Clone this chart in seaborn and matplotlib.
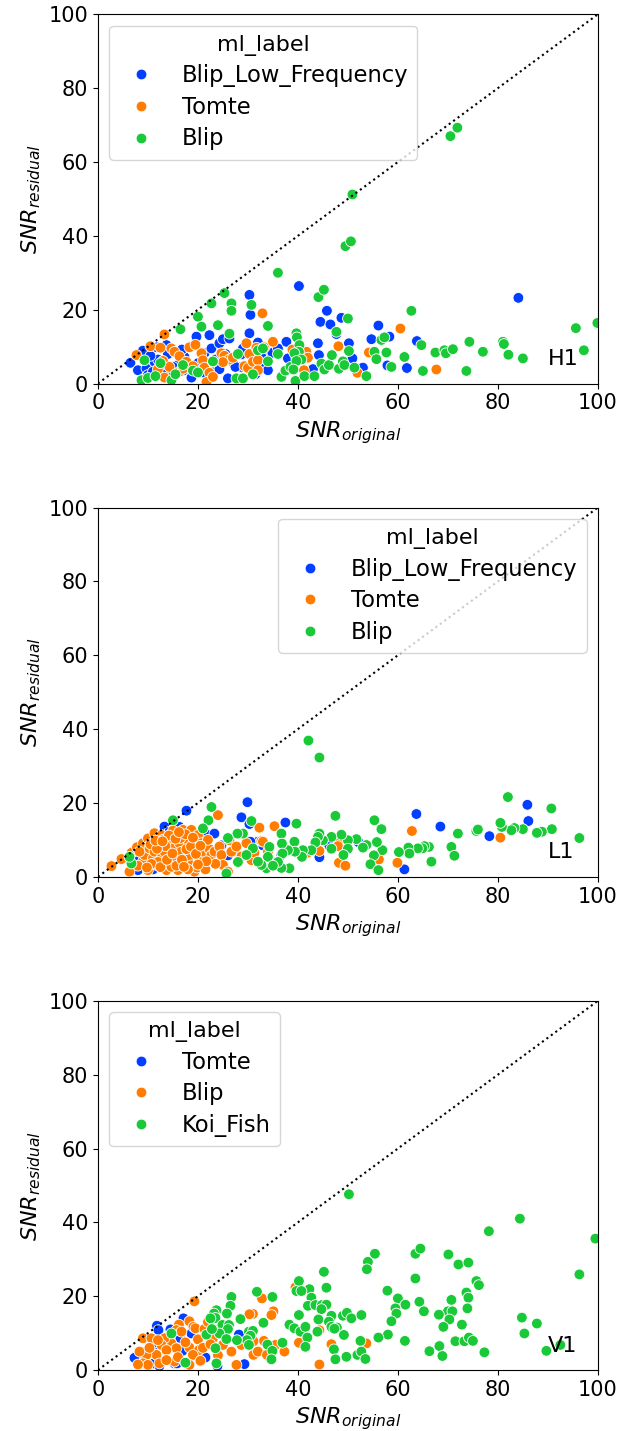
import numpy as np
import pandas as pd
import matplotlib
matplotlib.use("Agg")
import matplotlib.pyplot as plt
import seaborn as sns

# ---------------- H1 ----------------
h1_blf_x = [6.5, 9.0, 8.0, 9.7, 10, 11.3, 11, 12.7, 13.7, 14.7, 16, 17.3, 18.7, 19.3, 19.7, 21.3, 22.3, 22.7, 23.3, 24.3,
            25, 26.3, 26, 27.3, 28.7, 30.3, 30.5, 30.3, 32, 34.7, 33.7, 37.7, 38, 45.8, 44.5, 46.5, 48.7, 47.7, 44, 44.2,
            43, 50.2, 50.9, 53, 54.7, 56.1, 58.3, 57.9, 61.8, 63.8, 40.2, 84.1, 32.8, 34, 34.9, 18.3, 27.5, 28.7, 30.7, 32.7,
            24.3, 12, 14, 15, 20, 21, 25.5, 29, 10.5, 13, 17, 31.5, 36, 11.8, 16.8, 23.5]
h1_blf_y = [5.6, 8.9, 3.6, 4.1, 2.3, 5.9, 3.2, 4.1, 10.4, 2.0, 5.0, 7.2, 1.6, 10.4, 12.7, 8.2, 13.1, 9.5, 3.2, 10.9,
            12, 12.2, 1.4, 5.0, 4.5, 24, 18.6, 13.6, 11.1, 8.2, 5.9, 11.3, 6.8, 19.7, 16.7, 16.0, 17.8, 13.4, 10.9, 7.7,
            3.9, 10.9, 6.8, 4.3, 12, 15.7, 12.7, 4.9, 4.2, 11.5, 26.4, 23.2, 4.1, 3.6, 8.3, 9.9, 4.5, 7.9, 7.7, 7.2,
            3.9, 6.5, 8, 4.5, 5.5, 3, 8, 9.5, 7.5, 2.5, 3.5, 2.5, 9.5, 9.8, 9.2, 6.5]

h1_tomte_x = [7.7, 10.5, 13.3, 12.5, 13, 12, 13.3, 14.7, 14.3, 15.3, 16.3, 16.3, 17, 18.3, 17.7, 19, 20.7, 21, 21.3, 22.3,
              21.7, 23, 23, 24.7, 25.3, 26.3, 25, 29.7, 30.3, 29.3, 30, 31, 32, 31.7, 33.3, 32, 35, 32.9, 38.9, 39.7,
              41.7, 42, 41.2, 48.1, 51.9, 54.2, 60.5, 67.7, 19.5, 27]
h1_tomte_y = [7.7, 10.1, 13.3, 9.7, 6.1, 3.9, 1.6, 9.5, 4.5, 8.6, 7.4, 3.2, 4, 9.8, 5.9, 4.7, 8.2, 6.3, 4.3, 2.9,
              0.4, 1.8, 5.9, 8.2, 7.5, 6.5, 5.8, 10.9, 8.0, 4.7, 4.2, 5.9, 6.3, 9.7, 9.8, 3.6, 11.3, 19, 9.2, 6.8,
              8.6, 7.0, 3.6, 10.1, 2.9, 8.4, 14.9, 3.8, 10.5, 7]

h1_blip_x = [25.3, 22.7, 26.7, 26.7, 20, 20.7, 24, 16.5, 30.7, 34, 9.3, 8.7, 10, 11.5, 12.5, 14.7, 17, 19, 20, 26.3,
             28, 27.7, 29, 32, 33, 34, 36, 36.7, 37.5, 38.5, 44.1, 45.2, 62.7, 50, 47.7, 39.7, 39.8, 40.3, 40.2, 39.3,
             40.7, 39.7, 39.1, 39.5, 41.3, 43.3, 44.7, 45.3, 46.2, 46.8, 48.2, 49, 49.3, 50.2, 51.3, 53.7, 55.3, 55.7, 56.7, 57.3,
             57.7, 58.7, 61.3, 64.7, 65, 67.5, 69.3, 69.6, 71, 73.7, 74.3, 77, 81, 81.2, 82.1, 85, 95.6, 97.2, 99.9, 70.5,
             71.9, 50.9, 49.5, 50.6, 36, 23, 31, 15.5]
h1_blip_y = [24.5, 21.7, 21.7, 19.7, 18.1, 15.4, 15.8, 14.7, 21.3, 15.6, 6.3, 0.9, 1.5, 2, 5.5, 0.9, 5, 3.5, 3, 13.5,
             8, 1.4, 1.4, 9, 9.5, 6, 8, 1.8, 3.5, 4.5, 23.4, 25.4, 19.7, 17.6, 14.0, 13.6, 12.5, 10.4, 8.6, 8.2,
             6.5, 6.1, 3.8, 0.7, 2.0, 2.0, 5.4, 3.8, 5.0, 7.7, 4.0, 6, 5, 8.8, 4.3, 2.0, 8.6, 6.6, 11.8, 12.5,
             8.4, 4.5, 7.2, 10.4, 3.4, 8.4, 9.0, 8.2, 9.3, 3.4, 11.3, 8.6, 11.3, 10.7, 7.8, 6.8, 15, 9, 16.4, 67,
             69.3, 51.2, 37.2, 38.5, 30, 6, 2.5, 2.5]

# ---------------- L1 ----------------
l1_blf_x = [17.7, 29.9, 28.7, 30.3, 13.3, 14.3, 15.3, 16.3, 22, 23.3, 24.7, 26, 27.3, 7.3, 8, 6, 36.7, 37.5, 32, 63.7,
            68.5, 52.1, 46.3, 44.3, 61.3, 85.9, 86.1, 78.3, 12, 11, 20, 18.5, 33, 30.5]
l1_blf_y = [17.9, 20.2, 16.1, 14.3, 13.6, 12.2, 13, 13.5, 11.3, 11.7, 8.5, 5.8, 7, 4.5, 1.8, 5, 5.9, 14.7, 9.5, 17,
            13.6, 9.4, 8.4, 5.3, 2.0, 19.5, 15.1, 11.0, 10, 2, 4, 6.5, 8.5, 9.5]

l1_tomte_x = [2.7, 4.7, 6.3, 6.7, 7.8, 9.0, 10, 11.3, 12.7, 9, 9.3, 10, 10.3, 11, 11.3, 11.7, 12.3, 12.7, 13.3, 13.7,
              14, 14.3, 15, 15.3, 15.7, 16, 16.3, 16.7, 17, 17.3, 18, 18.3, 18.7, 18.7, 19.3, 19.3, 20, 20.3, 20.7, 21,
              22.3, 22.7, 23.3, 24, 24.3, 24.7, 25, 26, 26.3, 26.7, 27.7, 28.7, 29.7, 30.7, 31.3, 32.7, 32.3, 34, 35.3, 32.3,
              33, 41.9, 44.3, 48.2, 48, 48.2, 49.5, 56.2, 59.9, 62.8, 80.5, 8, 12, 13, 14.7, 15.7, 16.5, 17.7, 19.8, 21.5,
              22, 13.5, 10.7, 8.3, 15, 18, 23.5, 10.5, 11.8, 12.5, 14.2, 15.5, 16.8, 17.5, 18.6, 19.6, 20.5, 13.8, 11.5, 9.8,
              14.9, 17.2, 19, 21.7, 20, 16.2, 12.9]
l1_tomte_y = [2.9, 4.8, 1.4, 6.5, 8.0, 9.1, 10.4, 11.8, 11.3, 4.1, 5.9, 1.8, 7.7, 5.0, 6.8, 3.2, 9.1, 5, 6.8, 1.8,
              9.9, 3.8, 7.7, 5.5, 11.8, 1.8, 9.1, 6.8, 12.7, 4, 9.9, 5.5, 12.7, 3.1, 1.4, 7.7, 11.3, 4.8, 9.1, 6.8,
              7.5, 5.9, 6.8, 16.7, 8.2, 5.9, 3.2, 1.4, 9.9, 6.8, 8.2, 5.5, 9.1, 4.5, 6.5, 9.7, 3.6, 6.8, 13.7, 13.3,
              9.5, 6.5, 7.0, 9.7, 8.3, 3.8, 3.0, 4.7, 3.8, 12.4, 10.6, 3, 4, 10, 2.7, 3, 10.5, 7.5, 2.5, 2,
              10, 8.3, 3.5, 6.8, 12.5, 2, 3.5, 8.8, 7.6, 2.6, 11.2, 10.3, 4.6, 11.5, 8.2, 6.2, 8.4, 4.6, 9.8, 2.5,
              6.3, 2.7, 10.6, 4.2, 3.3, 12.1, 9.6]

l1_blip_x = [42.1, 44.3, 82, 90.7, 96.3, 90.8, 88.8, 87.8, 85, 83.3, 82.7, 80.8, 80.5, 75.7, 76, 72, 70.7, 71.3, 66.7, 66.2,
             65.3, 64.9, 64, 62.1, 62.3, 60.2, 56.9, 56.7, 55.3, 55.8, 55.2, 54.5, 56.1, 53.7, 53, 51.7, 50, 50, 49.1, 48.7,
             47.5, 46.7, 46.7, 45, 44.3, 44, 43.5, 42.7, 41, 40.8, 39.7, 39.3, 39.4, 38.3, 38, 36.7, 36.8, 36.9, 36.7, 36,
             30.7, 29, 27.9, 22.7, 22.1, 21, 15, 34.3, 34, 33.7, 32.7, 32, 31, 29.7, 25.7, 6.7, 6.3, 26, 28, 35]
l1_blip_y = [36.9, 32.3, 21.6, 18.5, 10.5, 12.9, 12.2, 11.9, 12.9, 13.2, 12.6, 13.5, 14.6, 12.4, 12.8, 11.7, 8.1, 5.7, 4.1, 8.1,
             8.3, 7.7, 7.7, 7.9, 6.3, 6.7, 7.2, 12.9, 15.3, 9.4, 5.8, 3.4, 1.8, 8.6, 7.9, 10.2, 9.9, 7.6, 5.9, 11.4,
             16.5, 10.8, 7.6, 9.9, 11.7, 10.8, 9.3, 7.2, 7.2, 5.4, 14.4, 9.5, 6.8, 2.3, 7.2, 11.7, 9, 6.3, 2.4, 4,
             15.1, 11.7, 11.7, 18.9, 15.3, 13.1, 15.3, 8.1, 5.4, 2.3, 3.2, 4.1, 7.7, 5.9, 0.9, 3.6, 5.4, 10.5, 4, 3]

# ---------------- V1 ----------------
v1_tomte_x = [11.8, 17.1, 14.5, 12.1, 18.7, 16.5, 14.1, 11.7, 11.3, 15.5, 16.9, 10.9, 9, 9, 7.3, 9.5, 11.2, 12.3, 15.3, 15.8,
              21.5, 28.2, 23.9, 29.3]
v1_tomte_y = [12, 14, 11, 10.8, 9.9, 8.6, 7.9, 6.8, 7.5, 6.1, 5.2, 4.5, 4.8, 3.6, 3.3, 3.0, 1.8, 1.1, 1.8, 1.8,
              3.4, 9.6, 1.1, 1.6]

v1_blip_x = [19.3, 32.8, 39.5, 35.1, 34.7, 31, 30.3, 33.2, 31.1, 31.1, 32, 33.8, 35.5, 37.3, 28.7, 26.7, 27.7, 44.3, 44.3, 40.2,
             46.7, 53.7, 18.3, 19.1, 19.5, 21.3, 20, 18.3, 20.2, 19, 18.3, 16.2, 15.7, 16.7, 14.7, 15.7, 13.3, 12.7, 13.7, 11.7,
             9.7, 9, 10, 9, 10.7, 12, 8.3, 12.3, 15.3, 13.7, 24, 25, 23, 22, 21, 17.5, 16, 10.3, 8, 20.5,
             24, 22.5]
v1_blip_y = [18.6, 19.4, 22.4, 15.9, 14.9, 15.2, 15.1, 7.9, 7.8, 4.1, 5, 4.1, 6.8, 5, 6.8, 5.0, 1.4, 1.5, 10.8, 7.4,
             7.0, 7.2, 13.2, 11.7, 11.3, 11.1, 8.3, 6.1, 5.4, 4.1, 1.4, 12.3, 10.8, 10.4, 7.2, 5.9, 8.6, 6.8, 5.4, 4.1,
             4.1, 1.8, 1.4, 8.6, 8.6, 8.1, 5.0, 1.8, 2.3, 2.7, 11, 6.8, 8.6, 13, 6, 7.5, 3.5, 6, 1.5, 2.5,
             4, 7]

v1_koi_x = [50.2, 84.4, 78.2, 99.5, 96.3, 55.4, 54, 53.8, 45.2, 63.5, 64.5, 63.5, 70.1, 72.1, 74.1, 75.7, 76.2, 73.7, 74.1, 73.9,
            70.7, 70, 70.9, 68.2, 70.3, 69.1, 72.8, 71.5, 73.3, 74.2, 75, 77.3, 68.3, 68.9, 66.3, 57.9, 60, 61.5, 64.3, 65.2,
            59.5, 59.7, 58.7, 58, 56.1, 61.4, 84.8, 87.8, 85.3, 89.7, 92.5, 45.7, 42.3, 42.7, 40.2, 39.7, 40.7, 42, 43.5, 44.8,
            45.7, 44.7, 40.2, 46.7, 49, 49.8, 50.7, 52.7, 44.1, 46.2, 38.3, 39.3, 40.5, 41.5, 41.9, 43.9, 46.7, 47.8, 47.3, 49.2,
            52.5, 41.5, 47.2, 47.5, 49.7, 51.9, 52.7, 53.5, 34.9, 31.8, 26.7, 26.5, 25.8, 23.7, 23.2, 23.5, 22.5, 28.5, 24.9, 26.2,
            26, 24.3, 25.7, 21.7, 22.8, 33.1, 30.2, 31, 30.5, 29.8, 27.8, 30.2, 23.5, 33.9, 36.9, 34.9, 34.7, 23.7, 17.5, 14.7]
v1_koi_y = [47.6, 41.0, 37.6, 35.6, 25.9, 31.5, 29.3, 27.3, 26.6, 31.5, 32.9, 24.8, 31.3, 28.6, 29.1, 24.1, 23, 21, 19.6, 16.7,
            19, 15.9, 15.9, 15, 13.7, 11.7, 12.3, 7.8, 7.8, 8.8, 7.9, 4.8, 6.5, 3.8, 5.1, 21.5, 19.4, 17.7, 18.5, 15.9,
            16.7, 15.3, 13.2, 9.6, 8.8, 7.9, 14.2, 12.6, 9.9, 5.2, 6.8, 22.3, 21.9, 19.6, 24.1, 21.4, 21.4, 17.4, 17.6, 17.6,
            17.7, 16.5, 14.9, 14.7, 14.7, 15.5, 14, 14.9, 13.7, 13.1, 12.3, 11.3, 10.4, 11.7, 8.8, 10.4, 11.7, 11.5, 11.2, 9.5,
            7.9, 6.3, 5.6, 2.9, 3.6, 4.1, 5, 3, 19.8, 21.2, 19.8, 17.4, 15.3, 16.2, 15.3, 14.1, 14, 13.8, 12.2, 12.2,
            11.1, 9.9, 8.4, 9.6, 11.1, 12.8, 10.4, 10.6, 9.3, 8.1, 8.1, 6.8, 5.9, 6.9, 7.4, 5.2, 2.9, 1.8, 2.0, 9.9]

panels = [
    ("H1", [("Blip_Low_Frequency", h1_blf_x, h1_blf_y), ("Tomte", h1_tomte_x, h1_tomte_y), ("Blip", h1_blip_x, h1_blip_y)], "upper left"),
    ("L1", [("Blip_Low_Frequency", l1_blf_x, l1_blf_y), ("Tomte", l1_tomte_x, l1_tomte_y), ("Blip", l1_blip_x, l1_blip_y)], "upper right"),
    ("V1", [("Tomte", v1_tomte_x, v1_tomte_y), ("Blip", v1_blip_x, v1_blip_y), ("Koi_Fish", v1_koi_x, v1_koi_y)], "upper left"),
]

plt.rcParams['font.size'] = 16
fig, axes = plt.subplots(3, 1, figsize=(6.32, 14.31), dpi=100)
fig.subplots_adjust(left=0.155, right=0.946, top=0.990, bottom=0.0426, hspace=0.336)

for ax, (det, groups, loc) in zip(axes, panels):
    frames = []
    for lab, xs, ys in groups:
        frames.append(pd.DataFrame({"snr_original": xs, "snr_residual": ys, "ml_label": lab}))
    df = pd.concat(frames, ignore_index=True)
    order = [g[0] for g in groups]
    sns.scatterplot(data=df, x="snr_original", y="snr_residual", hue="ml_label", hue_order=order,
                    palette="bright", s=60, ax=ax)
    ax.plot([0, 100], [0, 100], ls=":", color="k", lw=1.5)
    ax.set_xlim(0, 100)
    ax.set_ylim(0, 100)
    ax.set_xlabel("$SNR_{original}$", fontsize=16)
    ax.set_ylabel("$SNR_{residual}$", fontsize=16)
    ax.tick_params(labelsize=15)
    ax.text(90, 5, det, fontsize=16)
    ax.legend(title="ml_label", loc=loc, fontsize=16.3, title_fontsize=16, labelspacing=0.38)

fig.savefig("out.png", dpi=100)
